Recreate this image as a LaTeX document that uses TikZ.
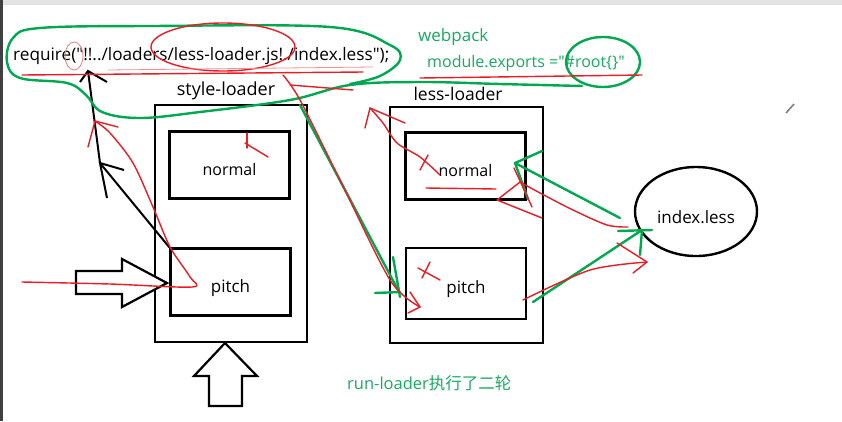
\documentclass[tikz,border=0pt]{standalone}
\usepackage{fontspec}
\setmainfont{Open Sans}[Ligatures=TeXOff]
\newfontfamily\cjk{Noto Sans CJK SC}
\usetikzlibrary{shapes.geometric}
\definecolor{inkred}{RGB}{236,28,36}
\definecolor{inkgreen}{RGB}{0,168,80}
\definecolor{txtgreen}{RGB}{24,170,96}
\newcommand{\lbl}{\fontsize{17}{19}\selectfont}
\newcommand{\xL}{231}
\newcommand{\xR}{466.5}

\begin{document}
\begin{tikzpicture}[x=1pt,y=-1pt,
  loaderbox/.style={draw,line width=2.4pt,minimum width=152pt,minimum height=237pt,inner sep=0pt},
  phasebox/.style={draw,line width=2.4pt,minimum width=120pt,minimum height=67pt,inner sep=0pt,
    font=\lbl,text height=20pt,text depth=0pt},
  redink/.style={draw=inkred,line width=1.4pt,line cap=round,line join=round},
  greenink/.style={draw=inkgreen,line width=2.4pt,line cap=round,line join=round},
  blockarrow/.style={draw,line width=2.2pt,fill=white,line join=miter}]

\useasboundingbox (0,0) rectangle (842,421);
\fill[gray!22] (0,0) rectangle (842,5);
\fill[black!75] (0,0) rectangle (3,421);

%% ---------------- code line and webpack note ----------------
\node[font=\fontsize{17.2}{19}\selectfont,anchor=west,inner sep=0pt] (req) at (13,56)
  {require("!!../loaders/less-loader.js!./index.less");};
\node[font=\lbl,text=txtgreen,anchor=west,inner sep=0pt] (wp) at (418,37) {webpack};
\node[font=\fontsize{16}{18}\selectfont,text=txtgreen,anchor=west,inner sep=0pt] (exp) at (427,63)
  {module.exports ="\#root\{\}"};
\node[font=\fontsize{16.5}{18}\selectfont,text=txtgreen,anchor=west,inner sep=0pt] (run) at (347,383)
  {run-loader{\cjk 执行了二轮}};

%% ---------------- style-loader ----------------
\node[font=\fontsize{18}{20}\selectfont,inner sep=0pt] (stl) at (226,91) {style-loader};
\node[loaderbox] (sbox) at (\xL,223.5) {};
\node[phasebox,font=\fontsize{16}{18}\selectfont] (snormal) at (229.5,165) {normal};
\node[phasebox] (spitch) at (230.5,282) {pitch};
\draw[blockarrow] (76,271) -- (122,271) -- (122,259) -- (167,283)
  -- (122,307) -- (122,294) -- (76,294) -- cycle;
\draw[blockarrow] (225,343) -- (257,376) -- (242,376) -- (242,406)
  -- (209,406) -- (209,376) -- (194,376) -- cycle;

%% ---------------- less-loader ----------------
\node[font=\fontsize{17.5}{19}\selectfont,inner sep=0pt] (lsl) at (458,94) {less-loader};
\node[loaderbox,minimum height=236pt,minimum width=153pt] (lbox) at (\xR,225) {};
\node[phasebox,font=\fontsize{16}{18}\selectfont] (lnormal) at (465.5,166) {normal};
\node[phasebox,minimum height=71pt] (lpitch) at (466,283.5) {pitch};
\node[draw,ellipse,line width=2.4pt,minimum width=122pt,minimum height=89pt,
  inner sep=0pt,font=\lbl,text height=23pt,text depth=0pt] (idx) at (696,211.5) {index.less};

%% pencil cursor
\draw[gray,line width=1.6pt] (786,113) -- (794,104);

%% ---------------- black pen ----------------
\draw[line width=2pt] (spitch.north west) -- (100,163) -- (88,71);
\draw[line width=2pt] (107,198) -- (100,163) -- (124,170);
\draw[line width=2pt] (80,82) -- (88,71) -- (107,82);

%% ---------------- green pen ----------------
\draw[greenink] plot[smooth,tension=0.6] coordinates {(582,86) (500,84) (420,82)
  (350,85) (290,100) (200,112) (140,118) (102,112) (86,95) (67,83) (20,78)
  (7,62) (13,38) (40,28) (150,26) (330,27) (390,45) (400,60) (380,76) (350,84)};
\draw[greenink] (603,62) ellipse[x radius=37,y radius=25];
\draw[greenink] (300,105) -- (398,290);
\draw[greenink] (393,257) -- (400,297);
\draw[greenink] (375,293) -- (400,292);
\draw[greenink] (620,218) -- (515,163);
\draw[greenink] (542,151) -- (515,163) -- (528,199);
\draw[greenink] (533,302) -- (642,230);
\draw[greenink] (618,231) -- (652,230);
\draw[greenink] (642,230) -- (640,255);

%% ---------------- red pen ----------------
\draw[redink] (223,47) ellipse[x radius=72,y radius=24];
\draw[inkred!60,line width=0.8pt] (74,56) ellipse[x radius=9,y radius=14];
\draw[redink] (22,75) -- (363,72);
\draw[inkred!50,line width=0.8pt] (108,70) -- (373,67);
\draw[redink] (290,85) -- (353,90);
\draw[redink] (420,78) -- (642,75);
% back up to the require line
\draw[redink] plot[smooth,tension=0.5] coordinates {(22,282) (110,284) (192,287)
  (190,277) (170,247) (153,207) (133,163) (110,133) (95,121)};
\draw[redink] (88,147) -- (95,121) -- (118,127);
\draw[redink] (247,133) -- (247,148);
\draw[redink] (245,143) -- (268,157);
% over to less-loader pitch
\draw[redink] plot[smooth,tension=0.5] coordinates {(283,75) (300,100) (340,180)
  (390,280) (420,307)};
\draw[redink] (410,292) -- (420,307) -- (408,313);
% out of less-loader normal
\draw[redink] plot[smooth,tension=0.5] coordinates {(440,175) (420,157)
  (397,143) (383,123) (370,108)};
\draw[redink] (365,128) -- (370,108) -- (405,123);
\draw[redink] (420,170) -- (428,155);
\draw[redink] (426,188) -- (496,189);
\draw[redink] (418,268) -- (440,280);
\draw[redink] (430,262) -- (422,278);
% index.less back into normal
\draw[redink] plot[smooth,tension=0.5] coordinates {(628,227) (607,225)
  (573,210) (540,193) (520,182)};
\draw[redink] (520,182) -- (497,200) -- (542,218);
\draw[redink] (514,168) -- (532,207);
% pitch out to index.less
\draw[redink] plot[smooth,tension=0.5] coordinates {(523,300) (590,270) (647,262)};
\draw[redink] (617,243) -- (647,262) -- (633,273);

\end{tikzpicture}
\end{document}
